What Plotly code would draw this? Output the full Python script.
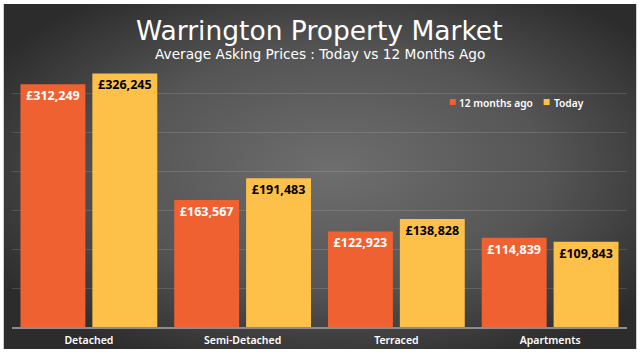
import base64
import plotly.graph_objects as go

categories = ["Detached", "Semi-Detached", "Terraced", "Apartments"]
prices_12m = [312249, 163567, 122923, 114839]
prices_today = [326245, 191483, 138828, 109843]
series_names = ["12 months ago", "Today"]
series_colors = ["#ef6130", "#fdc049"]
title_text = "Warrington Property Market"
subtitle_text = "Average Asking Prices : Today vs 12 Months Ago"

W, H = 640, 354
L, R, T, B = 11.5, 12.5, 55, 27
pw, ph = W - L - R, H - T - B

def px_x(x):
    return (x - L) / pw

def px_y(y):
    return (H - B - y) / ph

svg = ('<svg xmlns="http://www.w3.org/2000/svg" viewBox="0 0 634 345" width="634" height="345" '
       'preserveAspectRatio="none"><defs><radialGradient id="g" cx="52%" cy="48%" r="62%" '
       'fx="52%" fy="48%"><stop offset="0%" stop-color="#6e6e6e"/><stop offset="55%" stop-color="#555555"/>'
       '<stop offset="100%" stop-color="#2c2c2c"/></radialGradient></defs>'
       '<rect x="0" y="0" width="634" height="345" fill="url(#g)"/></svg>')
src = "data:image/svg+xml;base64," + base64.b64encode(svg.encode()).decode()

fmt = lambda v: "£{:,}".format(v)

fig = go.Figure()
fig.add_trace(go.Bar(
    name=series_names[0], x=categories, y=prices_12m,
    text=[fmt(v) for v in prices_12m], textposition="inside", insidetextanchor="end",
    textfont=dict(family="Noto Sans", size=12.5, color="white", weight="bold"),
    marker=dict(color=series_colors[0], line=dict(width=0)),
    constraintext="none", textangle=0, hoverinfo="skip", showlegend=False,
))
fig.add_trace(go.Bar(
    name=series_names[1], x=categories, y=prices_today,
    text=[fmt(v) for v in prices_today], textposition="inside", insidetextanchor="end",
    textfont=dict(family="Noto Sans", size=12.5, color="black", weight="bold"),
    marker=dict(color=series_colors[1], line=dict(width=0)),
    constraintext="none", textangle=0, hoverinfo="skip", showlegend=False,
))

# custom compact legend (small squares + labels)
legend_items = [(450, 457, series_names[0], series_colors[0]),
                (544, 552, series_names[1], series_colors[1])]
shapes = []
annotations = []
for sq_x, tx_x, name, col in legend_items:
    shapes.append(dict(type="rect", xref="paper", yref="paper",
                       x0=px_x(sq_x), x1=px_x(sq_x + 6), y0=px_y(105), y1=px_y(99),
                       fillcolor=col, line=dict(width=0), layer="above"))
    annotations.append(dict(text=name, xref="paper", yref="paper", x=px_x(tx_x), y=px_y(103),
                            xanchor="left", yanchor="middle", showarrow=False,
                            font=dict(family="Noto Sans", size=10.2, color="white", weight=600)))

annotations += [
    dict(text=title_text, xref="paper", yref="paper", x=px_x(319), y=px_y(30),
         xanchor="center", yanchor="middle", showarrow=False,
         font=dict(family="DejaVu Sans", size=26.5, color="white")),
    dict(text=subtitle_text, xref="paper", yref="paper", x=px_x(320), y=px_y(54.5),
         xanchor="center", yanchor="middle", showarrow=False,
         font=dict(family="DejaVu Sans", size=13.7, color="white")),
]

fig.update_layout(
    width=W, height=H,
    margin=dict(l=L, r=R, t=T, b=B, pad=0, autoexpand=False),
    paper_bgcolor="white", plot_bgcolor="rgba(0,0,0,0)",
    barmode="group", bargap=0.065, bargroupgap=0.097,
    showlegend=False,
    xaxis=dict(showgrid=False, showline=True, linecolor="#8c8c8c", linewidth=1.5,
               ticks="", ticklabelstandoff=3, automargin=False,
               tickfont=dict(family="Noto Sans", size=10.5, color="white", weight=600),
               fixedrange=True),
    yaxis=dict(range=[0, 350000], dtick=50000, showgrid=True, gridcolor="rgba(255,255,255,0.13)",
               gridwidth=1, showticklabels=False, zeroline=False, ticks="", fixedrange=True,
               automargin=False),
    images=[dict(source=src, xref="paper", yref="paper", x=px_x(3), y=px_y(4),
                 sizex=px_x(637) - px_x(3), sizey=px_y(4) - px_y(349),
                 xanchor="left", yanchor="top", sizing="stretch", layer="below")],
    shapes=shapes,
    annotations=annotations,
)

fig.write_html("out.html", config={"displayModeBar": False})
